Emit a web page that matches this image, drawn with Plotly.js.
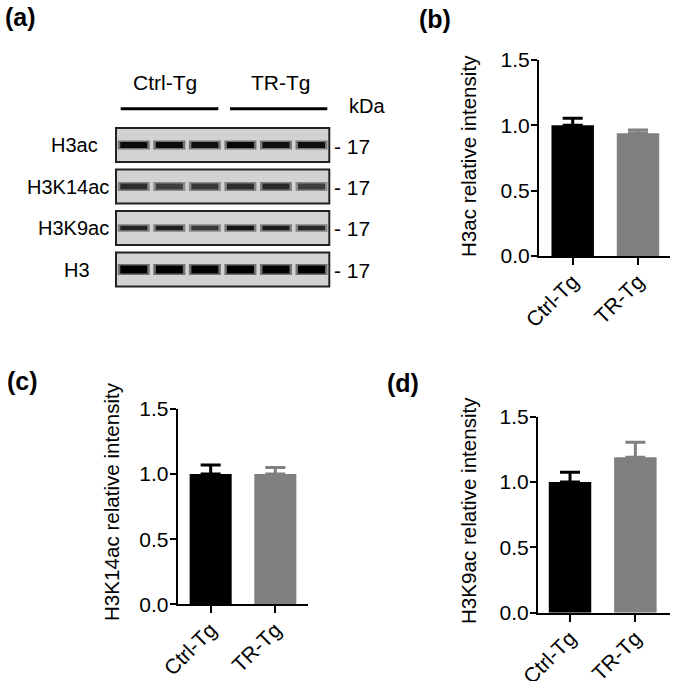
<!DOCTYPE html>
<html>
<head>
<meta charset="utf-8">
<script src="https://cdn.plot.ly/plotly-3.0.1.min.js"></script>
<style>html,body{margin:0;padding:0;background:#fff;}#chart{width:675px;height:681px;}</style>
</head>
<body>
<div id="chart"></div>
<script>
// ---------- data ----------
const groups = ['Ctrl-Tg', 'TR-Tg'];
const h3acMean = [1.00, 0.94];
const h3acSem = [0.055, 0.025];
const h3k14acMean = [1.00, 1.00];
const h3k14acSem = [0.07, 0.05];
const h3k9acMean = [1.00, 1.19];
const h3k9acSem = [0.075, 0.115];
const yTickVals = [0, 0.5, 1.0, 1.5];
const yTickText = ['0.0', '0.5', '1.0', '1.5'];
const yTitles = ['H3ac relative intensity', 'H3K14ac relative intensity', 'H3K9ac relative intensity'];
const panelLabels = ['(a)', '(b)', '(c)', '(d)'];

const blotRows = ['H3ac', 'H3K14ac', 'H3K9ac', 'H3'];
const blotMarker = ['17', '17', '17', '17'];
const lanes = [1, 2, 3, 4, 5, 6];
const laneGroups = ['Ctrl-Tg', 'TR-Tg'];
// band darkness (0 = none, 1 = black) per row, per lane
const bandH3ac = [0.95, 0.95, 0.92, 0.96, 0.92, 0.93];
const bandH3K14ac = [0.78, 0.70, 0.72, 0.78, 0.80, 0.70];
const bandH3K9ac = [0.82, 0.85, 0.72, 0.90, 0.86, 0.80];
const bandH3 = [1.0, 1.0, 0.98, 1.0, 0.98, 1.0];

// ---------- style ----------
const FONT = 'Arial, "Liberation Sans", Helvetica, sans-serif';
const W = 675, H = 681;
const px = v => v / W;
const py = v => 1 - v / H;
const barColors = ['#000000', '#808080'];

const traces = [];
const layout = {
  width: W, height: H,
  margin: {l: 0, r: 0, t: 0, b: 0},
  paper_bgcolor: '#ffffff',
  plot_bgcolor: 'rgba(0,0,0,0)',
  showlegend: false,
  barmode: 'overlay',
  font: {family: FONT, color: '#000', size: 20},
  shapes: [],
  annotations: []
};

function ann(text, x, y, o) {
  layout.annotations.push(Object.assign({
    text: text, x: px(x), y: py(y), xref: 'paper', yref: 'paper',
    showarrow: false, xanchor: 'center', yanchor: 'middle',
    font: {family: FONT, size: 20, color: '#000'}
  }, o || {}));
}

// ---------- bar panels ----------
const panels = [
  {means: h3acMean, sems: h3acSem, ax: 2, xd: [539, 670], yd: [60, 256], xr: [-0.516, 1.49], title: yTitles[0], tx: 468, ty: 156},
  {means: h3k14acMean, sems: h3k14acSem, ax: 3, xd: [177.7, 308.3], yd: [409, 604.3], xr: [-0.51, 1.51], title: yTitles[1], tx: 112, ty: 502},
  {means: h3k9acMean, sems: h3k9acSem, ax: 4, xd: [538, 670], yd: [416.7, 612.7], xr: [-0.49, 1.53], title: yTitles[2], tx: 469, ty: 511}
];

panels.forEach(p => {
  const xa = 'x' + p.ax, ya = 'y' + p.ax;
  groups.forEach((g, i) => {
    traces.push({
      type: 'bar', x: [g], y: [p.means[i]], xaxis: xa, yaxis: ya,
      width: 0.65,
      marker: {color: barColors[i], line: {width: 0}},
      error_y: {type: 'data', symmetric: false, array: [p.sems[i]], arrayminus: [0],
                color: barColors[i], thickness: 3, width: 10},
      hoverinfo: 'skip'
    });
  });
  layout['xaxis' + p.ax] = {
    domain: [px(p.xd[0]), px(p.xd[1])], anchor: ya,
    type: 'category', categoryorder: 'array', categoryarray: groups,
    range: p.xr, fixedrange: true,
    showline: true, linecolor: '#000', linewidth: 2,
    ticks: 'outside', ticklen: 7, tickwidth: 2, tickcolor: '#000',
    tickangle: -45, tickfont: {family: FONT, size: 21, color: '#000'},
    ticklabelstandoff: -4,
    showgrid: false, zeroline: false
  };
  layout['yaxis' + p.ax] = {
    domain: [py(p.yd[1]), py(p.yd[0])], anchor: xa,
    range: [0, 1.5], fixedrange: true,
    tickmode: 'array', tickvals: yTickVals, ticktext: yTickText,
    showline: true, linecolor: '#000', linewidth: 2,
    ticks: 'outside', ticklen: 6, tickwidth: 2, tickcolor: '#000',
    tickfont: {family: FONT, size: 21, color: '#000'},
    ticklabelstandoff: -3,
    showgrid: false, zeroline: false
  };
  ann(p.title, p.tx, p.ty, {textangle: -90, font: {family: FONT, size: 20.6, color: '#000'}});
});

// ---------- western blot panel (a) ----------
const bands = [bandH3ac, bandH3K14ac, bandH3K9ac, bandH3];
const bandWidths = [6, 6, 4.5, 8];
bands.forEach((row, r) => {
  row.forEach((d, li) => {
    const g = Math.round(205 * (1 - d));
    const halo = Math.round(205 - 0.45 * (205 - g));
    // soft halo
    traces.push({
      type: 'scatter', mode: 'lines', xaxis: 'x5', yaxis: 'y5',
      x: [lanes[li] - 0.45, lanes[li] + 0.45], y: [r, r],
      line: {color: 'rgb(' + halo + ',' + halo + ',' + halo + ')', width: bandWidths[r] + 3},
      hoverinfo: 'skip'
    });
    // band core
    traces.push({
      type: 'scatter', mode: 'lines', xaxis: 'x5', yaxis: 'y5',
      x: [lanes[li] - 0.38, lanes[li] + 0.38], y: [r, r],
      line: {color: 'rgb(' + g + ',' + g + ',' + g + ')', width: bandWidths[r]},
      hoverinfo: 'skip'
    });
  });
  layout.shapes.push({
    type: 'rect', xref: 'x5 domain', yref: 'y5', x0: 0, x1: 1, y0: r - 0.41, y1: r + 0.41,
    fillcolor: '#d2d2d2', line: {color: '#222', width: 2}, layer: 'below'
  });
});
layout.xaxis5 = {domain: [px(116), px(329.3)], anchor: 'y5', range: [0.5, 6.5], visible: false, fixedrange: true};
layout.yaxis5 = {domain: [py(290.25), py(124.25)], anchor: 'x5', range: [3.5, -0.5], visible: false, fixedrange: true};

// row labels, kDa markers
const rowLabelRight = [100, 110.7, 110.7, 92];
const rowCenterPx = [145, 186.5, 228, 269.5];
blotRows.forEach((name, r) => {
  ann(name, rowLabelRight[r], rowCenterPx[r], {xanchor: 'right'});
  ann('- ' + blotMarker[r], 331.5, rowCenterPx[r] + 1, {xanchor: 'left', font: {family: FONT, size: 21, color: '#000'}});
});
// lane group headers and lines
const groupCenters = [165, 280.7];
const groupLines = [[120.7, 218.3], [230, 327.3]];
laneGroups.forEach((g, i) => {
  ann(g, groupCenters[i], 82, {font: {family: FONT, size: 21, color: '#000'}});
  layout.shapes.push({type: 'line', xref: 'paper', yref: 'paper',
    x0: px(groupLines[i][0]), x1: px(groupLines[i][1]), y0: py(108.7), y1: py(108.7),
    line: {color: '#000', width: 3}});
});
ann('kDa', 346.5, 106, {xanchor: 'left', font: {family: FONT, size: 20, color: '#000'}});

// panel labels
const panelPos = [[3, 17], [417, 19], [5, 381], [385, 383]];
panelLabels.forEach((t, i) => {
  ann('<b>' + t + '</b>', panelPos[i][0], panelPos[i][1], {xanchor: 'left', font: {family: FONT, size: 25, color: '#000'}});
});

Plotly.newPlot('chart', traces, layout, {displayModeBar: false, staticPlot: true});
</script>
</body>
</html>
